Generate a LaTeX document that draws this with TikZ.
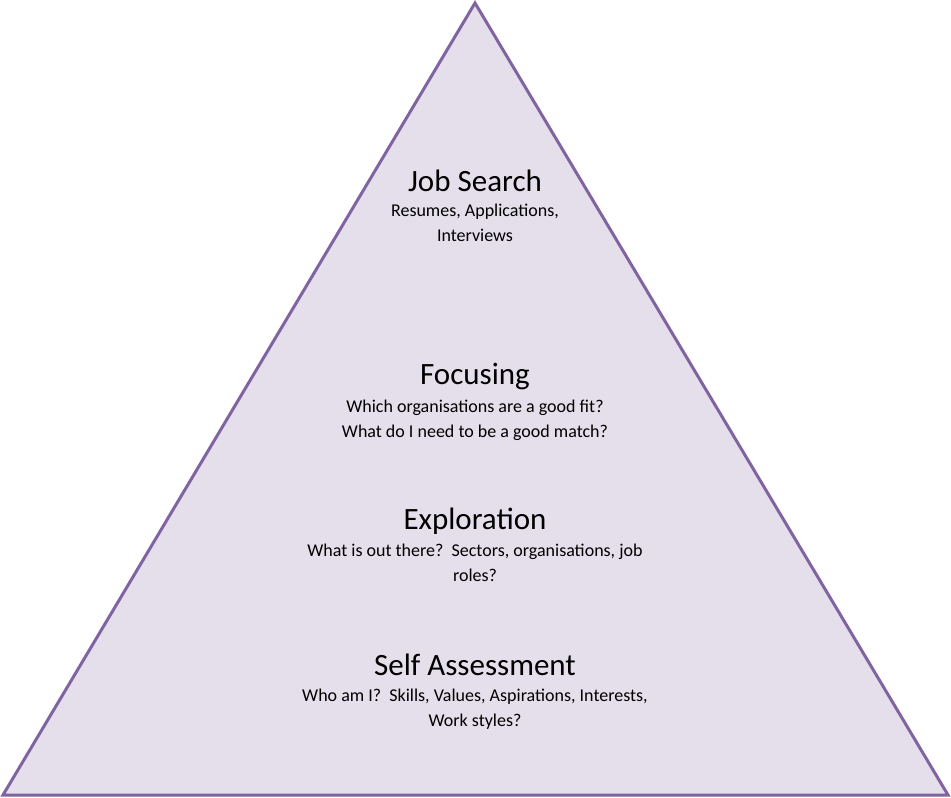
\documentclass[tikz,border=0pt]{standalone}
\usepackage{fontspec}
\setmainfont{Carlito}
\begin{document}
\begin{tikzpicture}[x=1pt,y=-1pt,
  ttl/.style={font=\fontsize{31}{36}\selectfont, inner sep=0pt, anchor=center},
  sub/.style={font=\fontsize{18}{25}\selectfont, inner sep=0pt, align=center, anchor=north}]
\useasboundingbox (0,0) rectangle (951,798);
\coordinate (apex) at (475,3);
\coordinate (bl) at (3,795);
\coordinate (br) at (948,795);
\draw[line width=3pt, draw={rgb,255:red,128;green,100;blue,162}, fill={rgb,255:red,229;green,223;blue,236}, line join=miter] (apex) -- (br) -- (bl) -- cycle;
\node[ttl] (t1) at (475,181) {Job Search};
\node[sub] (s1) at (475,204) {Resumes, Applications,\\Interviews};
\node[ttl] (t2) at (475,376) {Focusing};
\node[sub] (s2) at (475,400) {Which organisations are a good fit?\\What do I need to be a good match?};
\node[ttl] (t3) at (475,521) {Exploration};
\node[sub] (s3) at (475,544) {What is out there?~~Sectors, organisations, job\\roles?};
\node[ttl] (t4) at (475,665) {Self Assessment};
\node[sub] (s4) at (475,689) {Who am I?~~Skills, Values, Aspirations, Interests,\\Work styles?};
\end{tikzpicture}
\end{document}
